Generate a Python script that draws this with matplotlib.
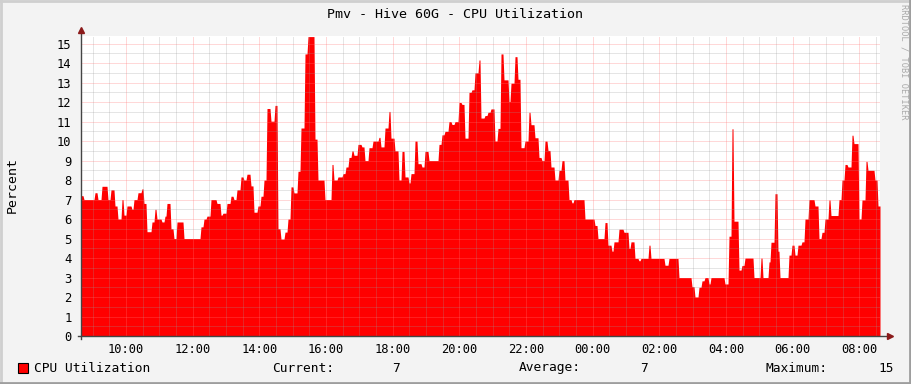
import numpy as np
import matplotlib
matplotlib.use("Agg")
import matplotlib.pyplot as plt
from matplotlib.patches import Rectangle
from matplotlib.lines import Line2D

# CPU utilisation samples: start of each level (clock hours, >24 = next day) and value (%)
times = [
    8.65, 8.71, 9.04, 9.13, 9.25, 9.43, 9.52, 9.64, 9.73, 9.85, 9.91, 10.00, 10.15, 10.21,
    10.33, 10.45, 10.51, 10.60, 10.75, 10.84, 10.90, 11.05, 11.14, 11.20, 11.32, 11.41,
    11.50, 11.71, 12.22, 12.31, 12.40, 12.52, 12.70, 12.82, 12.88, 13.00, 13.12, 13.21,
    13.30, 13.42, 13.51, 13.60, 13.72, 13.81, 13.93, 14.02, 14.11, 14.20, 14.32, 14.44,
    14.53, 14.62, 14.74, 14.83, 14.92, 15.01, 15.13, 15.22, 15.34, 15.43, 15.64, 15.73,
    15.94, 16.15, 16.21, 16.33, 16.48, 16.57, 16.66, 16.75, 16.81, 16.93, 17.05, 17.14,
    17.26, 17.38, 17.56, 17.62, 17.74, 17.86, 17.92, 18.04, 18.16, 18.25, 18.34, 18.46,
    18.52, 18.64, 18.73, 18.85, 18.94, 19.06, 19.36, 19.45, 19.54, 19.66, 19.75, 19.84,
    19.96, 20.05, 20.14, 20.26, 20.35, 20.44, 20.56, 20.62, 20.74, 20.83, 20.92, 21.04,
    21.13, 21.22, 21.31, 21.46, 21.52, 21.64, 21.73, 21.82, 21.94, 22.06, 22.12, 22.24,
    22.36, 22.45, 22.54, 22.63, 22.72, 22.84, 22.96, 23.05, 23.14, 23.26, 23.35, 23.41,
    23.74, 24.04, 24.13, 24.34, 24.43, 24.55, 24.61, 24.76, 24.91, 25.06, 25.12, 25.24,
    25.36, 25.42, 25.66, 25.72, 26.14, 26.26, 26.56, 26.95, 27.04, 27.16, 27.25, 27.34,
    27.46, 27.52, 27.94, 28.06, 28.15, 28.21, 28.36, 28.45, 28.54, 28.81, 29.02, 29.08,
    29.26, 29.32, 29.44, 29.53, 29.59, 29.86, 29.95, 30.04, 30.13, 30.25, 30.34, 30.46,
    30.64, 30.76, 30.85, 30.94, 31.06, 31.12, 31.36, 31.45, 31.54, 31.63, 31.75, 31.81,
    31.96, 32.05, 32.17, 32.23, 32.44, 32.53,
]
cpu = [
    7.2, 7.0, 7.35, 7.0, 7.68, 7.0, 7.5, 6.67, 6.0, 7.0, 6.2, 6.67, 6.5, 7.0,
    7.35, 7.55, 6.8, 5.35, 5.85, 6.5, 6.0, 5.85, 6.15, 6.8, 5.5, 5.0,
    5.85, 5.0, 5.6, 6.0, 6.15, 7.0, 6.8, 6.2, 6.3, 6.8, 7.17, 7.0,
    7.5, 8.16, 8.0, 8.3, 7.7, 6.35, 6.67, 7.17, 8.0, 11.67, 11.02, 11.83,
    5.5, 4.97, 5.33, 6.0, 7.65, 7.34, 8.45, 10.67, 14.47, 15.36, 10.1, 8.0,
    7.0, 8.8, 8.0, 8.16, 8.33, 8.67, 9.16, 9.5, 9.27, 9.83, 9.7, 9.0,
    9.66, 10.0, 10.19, 9.7, 10.67, 11.52, 10.15, 9.5, 8.0, 9.47, 8.16, 7.85,
    8.33, 10.0, 8.84, 8.67, 9.47, 9.0, 9.83, 10.32, 10.5, 11.0, 10.85, 11.0,
    11.98, 11.88, 10.15, 12.5, 12.63, 13.5, 14.16, 11.18, 11.31, 11.48, 11.65, 10.0,
    10.65, 14.47, 13.14, 12.03, 12.97, 14.33, 13.17, 9.66, 10.0, 11.48, 10.84, 10.17,
    9.16, 9.0, 10.0, 9.52, 8.67, 8.0, 8.5, 9.0, 8.0, 7.0, 6.83, 7.0,
    6.0, 5.67, 5.0, 5.82, 4.66, 4.35, 4.83, 5.48, 5.32, 4.49, 4.83, 3.98,
    3.86, 3.98, 4.66, 3.98, 3.63, 3.98, 3.0, 2.53, 2.0, 2.5, 2.83, 3.0,
    2.67, 3.0, 2.67, 5.12, 10.63, 5.89, 3.38, 3.62, 4.0, 3.0, 4.0, 3.0,
    3.8, 4.81, 7.3, 4.35, 3.0, 4.15, 4.66, 4.15, 4.66, 4.83, 6.0, 7.0,
    6.67, 5.0, 5.32, 6.0, 6.98, 6.18, 7.0, 8.0, 8.8, 8.67, 10.3, 9.87,
    6.0, 6.98, 8.96, 8.5, 8.0, 6.67,
]
t_end = 32.62

title = "Pmv - Hive 60G - CPU Utilization"
series_name = "CPU Utilization"
current, average, maximum = 7, 7, 15

x_major = np.arange(10, 33, 2)
x_labels = ["%02d:00" % (h % 24) for h in x_major]
y_major = np.arange(0, 16, 1)

mono = "DejaVu Sans Mono"
plt.rcParams["font.family"] = mono

fig = plt.figure(figsize=(9.11, 3.84), dpi=100)
fig.patch.set_facecolor("#f3f3f3")
ax = fig.add_axes([81 / 911, 1 - 336 / 384, 799 / 911, 300 / 384])
ax.set_facecolor("white")

# each level ramps in over about one pixel column, as rrdtool draws it
ramp = 0.03
xs, ys = [], []
for i, (t0, val) in enumerate(zip(times, cpu)):
    t1 = times[i + 1] if i + 1 < len(times) else t_end
    xs += [t0 + (ramp if i > 0 else 0), t1]
    ys += [val, val]
ax.fill_between(xs, 0, ys, color="#ff0000", linewidth=0, zorder=1)

ax.set_xlim(times[0], t_end)
ax.set_ylim(0, 15.39)

# grid lines, drawn over the area like rrdtool does
for h in np.arange(9.0, 32.7, 0.5):
    major = (h % 2 == 0)
    ax.axvline(h, color=(1, 0.45, 0.45, 0.55) if major else (0.6, 0.6, 0.6, 0.5),
               lw=0.72, ls=(0, (1, 1)), zorder=2)
for y in np.arange(0.5, 15.4, 0.5):
    major = (y % 1 == 0)
    ax.axhline(y, color=(1, 0.45, 0.45, 0.55) if major else (0.6, 0.6, 0.6, 0.5),
               lw=0.72, ls=(0, (1, 1)), zorder=2)

for s in ax.spines.values():
    s.set_visible(False)
ax.set_xticks(x_major)
ax.set_xticklabels(x_labels)
ax.set_yticks(y_major)
ax.tick_params(axis="both", length=0, labelsize=8.7, colors="black")
ax.tick_params(axis="x", pad=5)
ax.tick_params(axis="y", pad=7)

# axes with arrows
ax.plot([-0.004, 1.012], [0, 0], transform=ax.transAxes, color="#444444", lw=1,
        clip_on=False, zorder=5)
ax.plot([0, 0], [-0.01, 1.02], transform=ax.transAxes, color="#444444", lw=1,
        clip_on=False, zorder=5)
ax.plot([1.012], [0], marker=">", ms=4, color="#8b1a1a", transform=ax.transAxes,
        clip_on=False, zorder=6)
ax.plot([0], [1.02], marker="^", ms=4, color="#8b1a1a", transform=ax.transAxes,
        clip_on=False, zorder=6)

fig.text(12 / 911, 1 - 185 / 384, "Percent", rotation=90, ha="center", va="center",
         fontsize=9.5)
fig.text(455 / 911, 1 - 14 / 384, title, ha="center", va="center", fontsize=9.6)
fig.text(904 / 911, 1 - 4 / 384, "RRDTOOL / TOBI OETIKER", rotation=270, ha="center",
         va="top", fontsize=6.2, color="#aaaaaa")

# legend row
fig.patches.append(Rectangle((18 / 911, 1 - 373 / 384), 10 / 911, 10 / 384,
                             transform=fig.transFigure, facecolor="#ff0000",
                             edgecolor="black", lw=0.8))
ly = 1 - 368 / 384
fig.text(34 / 911, ly, series_name, va="center", fontsize=9.3)
fig.text(272 / 911, ly, "Current:", va="center", fontsize=9.3)
fig.text(400 / 911, ly, str(current), va="center", ha="right", fontsize=9.3)
fig.text(519 / 911, ly, "Average:", va="center", fontsize=9.3)
fig.text(648 / 911, ly, str(average), va="center", ha="right", fontsize=9.3)
fig.text(766 / 911, ly, "Maximum:", va="center", fontsize=9.3)
fig.text(894 / 911, ly, str(maximum), va="center", ha="right", fontsize=9.3)

# 3d-ish frame around the canvas
fig.lines.append(Line2D([0, 1], [1 - 1 / 384, 1 - 1 / 384], transform=fig.transFigure,
                        color="#cfcfcf", lw=2))
fig.lines.append(Line2D([1 / 911, 1 / 911], [0, 1], transform=fig.transFigure,
                        color="#cfcfcf", lw=2))
fig.lines.append(Line2D([0, 1], [1 / 384, 1 / 384], transform=fig.transFigure,
                        color="#9e9e9e", lw=2))
fig.lines.append(Line2D([1 - 1 / 911, 1 - 1 / 911], [0, 1], transform=fig.transFigure,
                        color="#9e9e9e", lw=2))

fig.savefig("out.png", dpi=100, facecolor=fig.get_facecolor())
